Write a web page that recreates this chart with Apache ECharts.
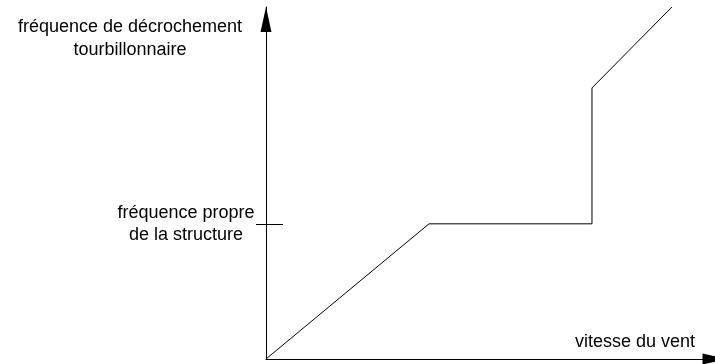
<!DOCTYPE html>
<html lang="fr">
<head>
<meta charset="utf-8">
<title>Décrochement tourbillonnaire</title>
<script src="https://cdn.jsdelivr.net/npm/echarts@6/dist/echarts.min.js"></script>
<style>
    html, body { margin: 0; padding: 0; background: #fff; }
    #chart { width: 715px; height: 364px; }
</style>
</head>
<body>
<div id="chart"></div>
<script>
// Données du schéma (unités arbitraires, 0..100)
const windSpeed = [0, 36.3, 72.6, 72.6, 90.4];
const sheddingFreq = [0, 38.4, 38.4, 77.0, 100];
const naturalFreq = [38.4];

// Textes
const yTitle = 'fréquence de décrochement\ntourbillonnaire';
const xTitle = 'vitesse du vent';
const naturalLabel = 'fréquence propre\nde la structure';

const FONT = "'Liberation Sans', Arial, sans-serif";
const FONT_SIZE = 18;

const chart = echarts.init(document.getElementById('chart'));

const option = {
    animation: false,
    title: {
        text: yTitle,
        left: 125,
        top: 11,
        padding: 5,
        textAlign: 'center',
        textStyle: {
            fontFamily: FONT,
            fontSize: FONT_SIZE,
            fontWeight: 'normal',
            color: '#000',
            lineHeight: 23
        }
    },
    grid: {
        left: 266,
        right: 0,
        top: 7,
        bottom: 5
    },
    xAxis: {
        type: 'value',
        min: 0,
        max: 100,
        name: xTitle,
        nameLocation: 'end',
        nameGap: -20,
        nameTextStyle: {
            fontFamily: FONT,
            fontSize: FONT_SIZE,
            color: '#000',
            align: 'right',
            verticalAlign: 'bottom',
            padding: [0, 0, 8, 0]
        },
        axisLine: {
            lineStyle: { color: '#000', width: 1 },
            symbol: ['none', 'triangle'],
            symbolSize: [11, 25]
        },
        axisTick: { show: false },
        axisLabel: { show: false },
        splitLine: { show: false }
    },
    yAxis: [
        {
            type: 'value',
            min: 0,
            max: 100,
            axisLine: {
                lineStyle: { color: '#000', width: 1 },
                symbol: ['none', 'triangle'],
                symbolSize: [11, 25],
                symbolOffset: [0, -12.5]
            },
            axisTick: {
                show: true,
                length: 10,
                customValues: naturalFreq,
                lineStyle: { color: '#000', width: 1 }
            },
            axisLabel: {
                show: true,
                customValues: naturalFreq,
                formatter: () => naturalLabel,
                margin: 80,
                align: 'center',
                verticalAlign: 'middle',
                fontFamily: FONT,
                fontSize: FONT_SIZE,
                lineHeight: 22,
                color: '#000'
            },
            splitLine: { show: false }
        },
        {
            // tick côté intérieur (le trait traverse l'axe)
            type: 'value',
            min: 0,
            max: 100,
            position: 'left',
            axisLine: { show: false },
            axisTick: {
                show: true,
                inside: true,
                length: 17,
                customValues: naturalFreq,
                lineStyle: { color: '#000', width: 1 }
            },
            axisLabel: { show: false },
            splitLine: { show: false }
        }
    ],
    series: [
        {
            type: 'line',
            data: windSpeed.map((v, i) => [v, sheddingFreq[i]]),
            showSymbol: false,
            clip: false,
            lineStyle: { color: '#000', width: 1 }
        }
    ]
};

chart.setOption(option);
</script>
</body>
</html>
